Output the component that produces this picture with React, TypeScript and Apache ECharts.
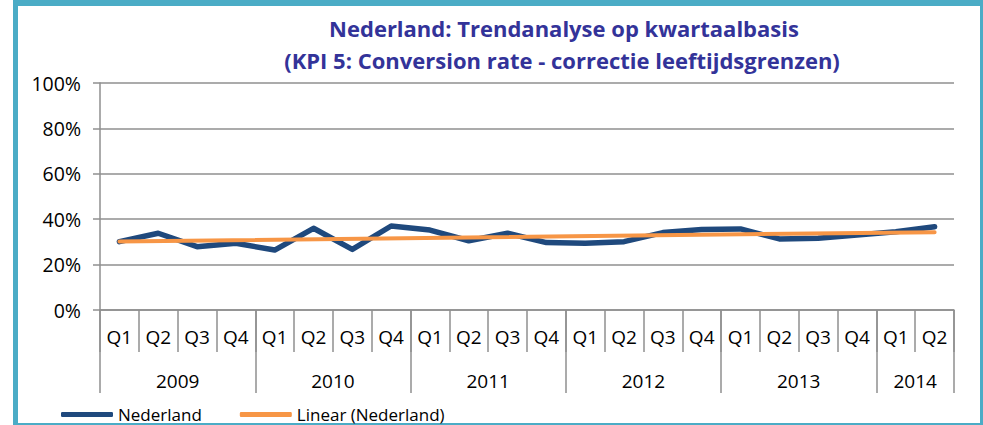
import React, { useEffect, useRef } from "react";
import * as echarts from "echarts";

const quarters = ["Q1","Q2","Q3","Q4","Q1","Q2","Q3","Q4","Q1","Q2","Q3","Q4","Q1","Q2","Q3","Q4","Q1","Q2","Q3","Q4","Q1","Q2"];
const years = ["2009","2010","2011","2012","2013","2014"];
const quartersPerYear = [4,4,4,4,4,2];
const nederland = [30.1,33.8,27.9,29.4,26.4,36.0,26.7,37.0,35.2,30.5,33.8,29.7,29.4,30.1,34.1,35.5,35.7,31.3,31.6,33.0,34.5,36.7];
// trend line end points
const trendStart = 30.2;
const trendEnd = 34.3;
const yTicks = [0, 20, 40, 60, 80, 100];

const FONT = "Open Sans";
const GRAY = "#8f8f8f";

export default function App() {
  const ref = useRef<HTMLDivElement>(null);
  useEffect(() => {
    if (!ref.current) return;
    const chart = echarts.init(ref.current, null, { renderer: "svg" });

    const boundaries: number[] = [0];
    const centers: number[] = [];
    let acc = 0;
    quartersPerYear.forEach((q) => {
      centers.push(acc + q / 2);
      acc += q;
      boundaries.push(acc);
    });

    chart.setOption({
      animation: false,
      backgroundColor: "#ffffff",
      textStyle: { fontFamily: FONT },
      graphic: [
        { type: "rect", shape: { x: 13, y: 0, width: 5, height: 425 }, style: { fill: "#4bacc6" } },
        { type: "rect", shape: { x: 13, y: 0, width: 970, height: 6 }, style: { fill: "#4bacc6" } },
        { type: "rect", shape: { x: 980, y: 0, width: 3, height: 425 }, style: { fill: "#4bacc6" } },
        { type: "rect", shape: { x: 13, y: 423, width: 970, height: 2 }, style: { fill: "#4bacc6" } },
        {
          type: "text", x: 564, y: 28,
          style: { text: "Nederland: Trendanalyse op kwartaalbasis", fill: "#333399", fontSize: 22, fontWeight: "bold", fontFamily: FONT, align: "center", verticalAlign: "middle" },
        },
        {
          type: "text", x: 562, y: 60,
          style: { text: "(KPI 5: Conversion rate - correctie leeftijdsgrenzen)", fill: "#333399", fontSize: 22, fontWeight: "bold", fontFamily: FONT, align: "center", verticalAlign: "middle" },
        },
      ],
      legend: {
        left: 56,
        top: 401,
        itemWidth: 52,
        itemHeight: 5,
        itemGap: 38,
        icon: "roundRect",
        textStyle: { fontSize: 17, color: "#000", fontFamily: FONT },
        data: [
          { name: "Nederland", itemStyle: { color: "#1f497d" } },
          { name: "Linear (Nederland)", itemStyle: { color: "#f79646" } },
        ],
      },
      grid: { left: 100, right: 29, top: 83, bottom: 115 },
      xAxis: [
        {
          type: "category",
          data: quarters,
          position: "bottom",
          boundaryGap: true,
          axisLine: { show: true, lineStyle: { color: GRAY, width: 1.5 } },
          axisTick: { show: true, interval: 0, length: 42, lineStyle: { color: GRAY, width: 1.5 } },
          axisLabel: { interval: 0, margin: 17, fontSize: 19, color: "#000", fontFamily: FONT },
          splitLine: { show: false },
        },
        {
          type: "value",
          min: 0,
          max: quarters.length,
          position: "bottom",
          axisLine: { show: false },
          axisTick: { show: true, customValues: boundaries, length: 83, lineStyle: { color: GRAY, width: 1.5 } },
          axisLabel: {
            show: true,
            customValues: centers,
            margin: 61,
            fontSize: 19,
            color: "#000",
            fontFamily: FONT,
            formatter: (v: number) => {
              const i = centers.findIndex((c) => Math.abs(c - v) < 1e-6);
              return i >= 0 ? years[i] : "";
            },
          },
          splitLine: { show: false },
        },
      ],
      yAxis: {
        type: "value",
        min: yTicks[0],
        max: yTicks[yTicks.length - 1],
        interval: 20,
        axisLine: { show: true, lineStyle: { color: GRAY, width: 1.5 } },
        axisTick: { show: true, length: 7, lineStyle: { color: GRAY, width: 1.5 } },
        axisLabel: { margin: 19, fontSize: 19.5, color: "#000", fontFamily: FONT, formatter: "{value}%" },
        splitLine: { show: true, lineStyle: { color: GRAY, width: 1.5 } },
      },
      series: [
        {
          name: "Nederland",
          type: "line",
          data: nederland,
          symbol: "none",
          lineStyle: { color: "#1f497d", width: 5.5, cap: "round", join: "round" },
          itemStyle: { color: "#1f497d" },
          z: 2,
        },
        {
          name: "Linear (Nederland)",
          type: "line",
          data: [[0, trendStart], [quarters.length - 1, trendEnd]],
          symbol: "none",
          lineStyle: { color: "#f79646", width: 4, cap: "round" },
          itemStyle: { color: "#f79646" },
          z: 3,
        },
      ],
    });
    return () => chart.dispose();
  }, []);
  return <div ref={ref} style={{ position: "absolute", left: 0, top: 0, width: 983, height: 425 }} />;
}
